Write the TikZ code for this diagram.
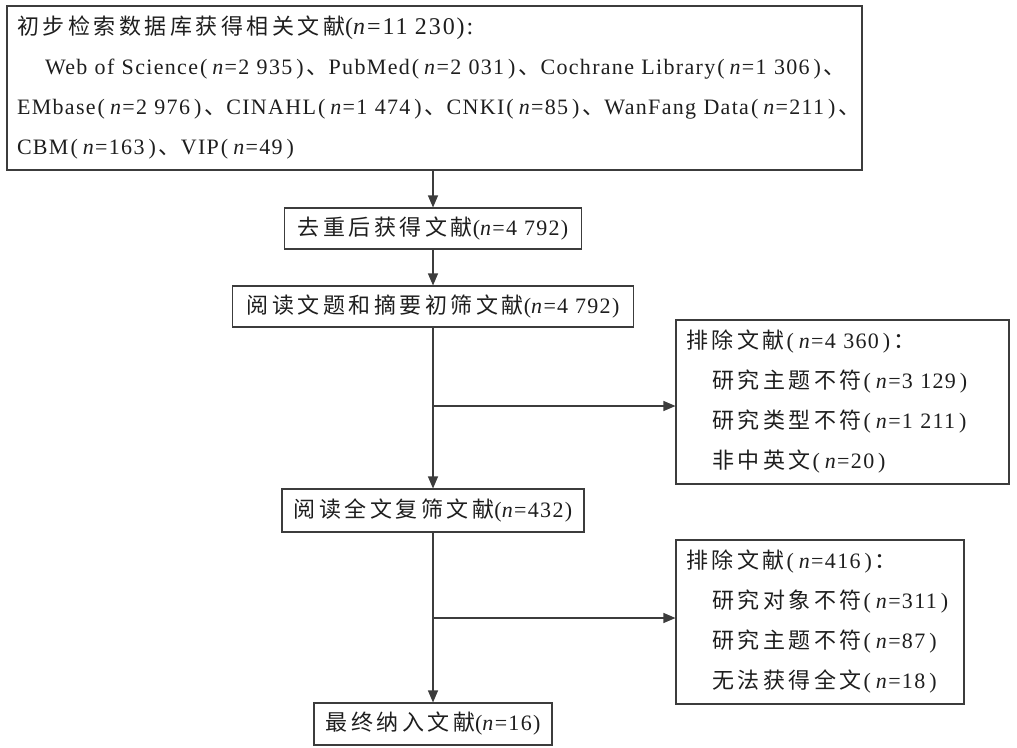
\documentclass[tikz,border=0pt]{standalone}
\usepackage{fontspec}
\setmainfont{Liberation Serif}[LetterSpace=6]
\newfontfamily\zhfont{Noto Sans CJK SC}[LetterSpace=16]
\newfontfamily\widelat{Liberation Serif}[LetterSpace=8]
\usetikzlibrary{arrows.meta}
\newcommand\zh[1]{{\zhfont #1}}
\newcommand\nn{\textit{n}}
\newcommand\lp{\hspace{2pt}(\hspace{5pt}}
\newcommand\rp{\hspace{4pt})\hspace{3pt}}
\definecolor{ln}{RGB}{60,60,60}
\definecolor{tx}{RGB}{30,30,30}
\begin{document}
\begin{tikzpicture}[x=1pt,y=-1pt,
  box/.style={draw=ln, line width=1.1pt, text=tx, inner sep=0pt},
  mainbox/.style={box, minimum height=41pt, align=center},
  listbox/.style={box, minimum height=164pt, align=left},
  arr/.style={draw=ln, line width=1.1pt, -{Triangle[length=12pt,width=10pt]}},
  font=\fontsize{22}{40}\selectfont]
\useasboundingbox (0,0) rectangle (1017,747);

\node[listbox, minimum width=855pt, text width=835pt] (src) at (434.5,88) {%
\mbox{\zh{初步检索数据库获得相关文献}{\widelat\fontsize{24}{40}\selectfont(\textit{n}=11 230):}}\\
\mbox{\hspace*{28pt}Web of Science\lp\nn=2 935\rp\zh{、}PubMed\lp\nn=2 031\rp\zh{、}Cochrane Library\lp\nn=1 306\rp\zh{、}}\\
\mbox{EMbase\lp\nn=2 976\rp\zh{、}CINAHL\lp\nn=1 474\rp\zh{、}CNKI\lp\nn=85\rp\zh{、}WanFang Data\lp\nn=211\rp\zh{、}}\\
\mbox{CBM\lp\nn=163\rp\zh{、}VIP\lp\nn=49\rp}};

\node[mainbox, minimum width=297pt] (dedup) at (433,228.5) {\zh{去重后获得文献}(\nn=4 792)};
\node[mainbox, minimum width=401pt] (title) at (433,306.5) {\zh{阅读文题和摘要初筛文献}(\nn=4 792)};
\node[mainbox, minimum width=302pt, minimum height=43pt] (full) at (433,510.5) {\zh{阅读全文复筛文献}(\nn=432)};
\node[mainbox, minimum width=238pt, minimum height=42pt] (final) at (433,724) {\zh{最终纳入文献}(\nn=16)};

\node[listbox, minimum width=333pt, text width=313pt] (ex1) at (842.5,402) {%
\zh{排除文献}\lp\nn=4 360\rp\zh{：}\\
\hspace*{26pt}\zh{研究主题不符}\lp\nn=3 129\rp\\
\hspace*{26pt}\zh{研究类型不符}\lp\nn=1 211\rp\\
\hspace*{26pt}\zh{非中英文}\lp\nn=20\rp};

\node[listbox, minimum width=288pt, text width=268pt] (ex2) at (820,622) {%
\zh{排除文献}\lp\nn=416\rp\zh{：}\\
\hspace*{26pt}\zh{研究对象不符}\lp\nn=311\rp\\
\hspace*{26pt}\zh{研究主题不符}\lp\nn=87\rp\\
\hspace*{26pt}\zh{无法获得全文}\lp\nn=18\rp};

\coordinate (b1) at (433,406);
\coordinate (b2) at (433,618);

\draw[arr] (src.south -| dedup.north) -- (dedup.north);
\draw[arr] (dedup) -- (title);
\draw[arr] (title) -- (full);
\draw[arr] (b1) -- (b1 -| ex1.west);
\draw[arr] (full) -- (final);
\draw[arr] (b2) -- (b2 -| ex2.west);
\end{tikzpicture}
\end{document}
